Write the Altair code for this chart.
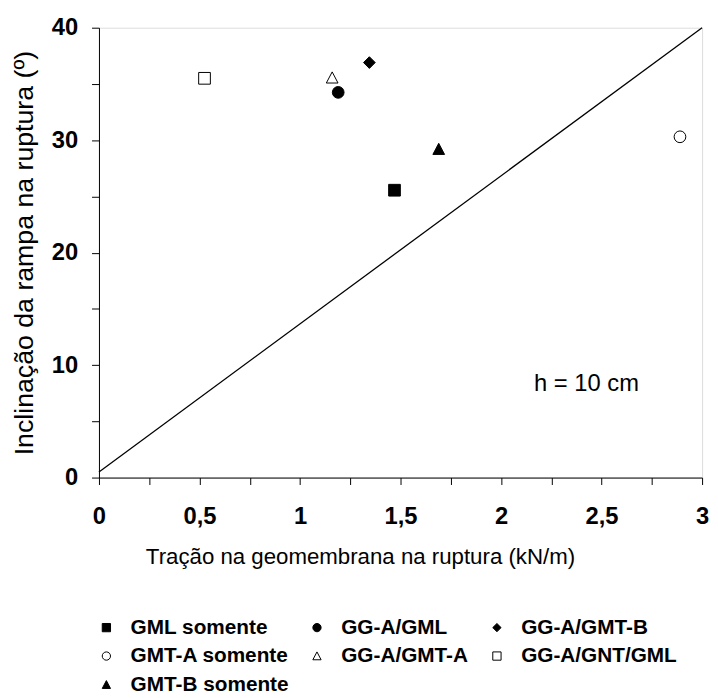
import altair as alt
import pandas as pd

# ---- data ----
series = ["GML somente", "GG-A/GML", "GG-A/GMT-B",
          "GMT-A somente", "GG-A/GMT-A", "GG-A/GNT/GML",
          "GMT-B somente"]
tracao = [1.47, 1.19, 1.345, 2.89, 1.16, 0.525, 1.69]
inclinacao = [25.55, 34.25, 36.9, 30.3, 35.55, 35.5, 29.2]

DIAMOND = "M-1,0L0,-1L1,0L0,1Z"
TRIANGLE = "M0,-1L1,0.9L-1,0.9Z"
shapes = ["square", "circle", DIAMOND, "circle", TRIANGLE, "square", TRIANGLE]
fills = ["black", "black", "black", "white", "white", "white", "black"]
strokes = ["black"] * 7

line_x = [0, 3]
line_y = [0.5, 40]

x_ticks = [0, 0.25, 0.5, 0.75, 1, 1.25, 1.5, 1.75, 2, 2.25, 2.5, 2.75, 3]
y_ticks = [0, 5, 10, 15, 20, 25, 30, 35, 40]

FONT = "Liberation Sans"

pts = pd.DataFrame({"serie": series, "x": tracao, "y": inclinacao})
ln = pd.DataFrame({"x": line_x, "y": line_y})

xscale = alt.Scale(domain=[0, 3], nice=False, zero=False)
yscale = alt.Scale(domain=[0, 40], nice=False, zero=False)

xaxis = alt.Axis(
    values=x_ticks,
    labelExpr="datum.value % 0.5 == 0 ? replace(format(datum.value, '.2~f'), '.', ',') : ''",
    title="Tração na geomembrana na ruptura (kN/m)",
    titleFont=FONT, titleFontSize=22.5, titleFontWeight="normal", titleColor="black",
    titleBaseline="alphabetic", titleY=86.5, titleX=264,
    labelFont=FONT, labelFontSize=24, labelFontWeight="bold", labelColor="black",
    labelPadding=20, labelFlush=False, labelOverlap=False,
    tickSize=7, tickColor="black", domainColor="black", grid=False,
)
yaxis = alt.Axis(
    values=y_ticks,
    labelExpr="datum.value % 10 == 0 ? format(datum.value, 'd') : ''",
    title="Inclinação da rampa na ruptura (º)",
    titleFont=FONT, titleFontSize=27, titleFontWeight="normal", titleColor="black",
    titleBaseline="alphabetic", titleX=-67,
    labelFont=FONT, labelFontSize=24, labelFontWeight="bold", labelColor="black",
    labelPadding=14, labelFlush=False, labelOverlap=False,
    tickSize=7.5, tickColor="black", domainColor="black", grid=False,
)

line = alt.Chart(ln).mark_line(color="black", strokeWidth=1.3).encode(
    x=alt.X("x:Q", scale=xscale, axis=xaxis),
    y=alt.Y("y:Q", scale=yscale, axis=yaxis),
)

leg = alt.Legend(
    title=None, orient="none", legendX=-3, legendY=596, columns=3,
    direction="horizontal",
    labelFont=FONT, labelFontSize=21, labelFontWeight="bold", labelColor="black",
    symbolSize=70, symbolStrokeWidth=1,
    labelOffset=14, columnPadding=18, rowPadding=7, labelLimit=400,
)

points = alt.Chart(pts).mark_point(
    filled=True, strokeWidth=1, size=140, opacity=1
).encode(
    x=alt.X("x:Q", scale=xscale),
    y=alt.Y("y:Q", scale=yscale),
    shape=alt.Shape("serie:N", scale=alt.Scale(domain=series, range=shapes), legend=leg),
    fill=alt.Fill("serie:N", scale=alt.Scale(domain=series, range=fills), legend=leg),
    stroke=alt.Stroke("serie:N", scale=alt.Scale(domain=series, range=strokes), legend=leg),
)

label = alt.Chart(pd.DataFrame({"t": ["h = 10 cm"]})).mark_text(
    font=FONT, fontSize=24, color="black", align="center", baseline="middle"
).encode(
    x=alt.datum(2.425), y=alt.datum(8.3), text="t:N"
)

chart = alt.layer(line, points, label).properties(
    width=610, height=455,
    padding={"left": 92, "top": 16, "right": 8, "bottom": 219},
    autosize=alt.AutoSizeParams(type="none"),
).configure_view(
    stroke="#808080", strokeWidth=1
).configure(background="white")

chart.save("out.html", embed_options={"renderer": "svg", "actions": False})
